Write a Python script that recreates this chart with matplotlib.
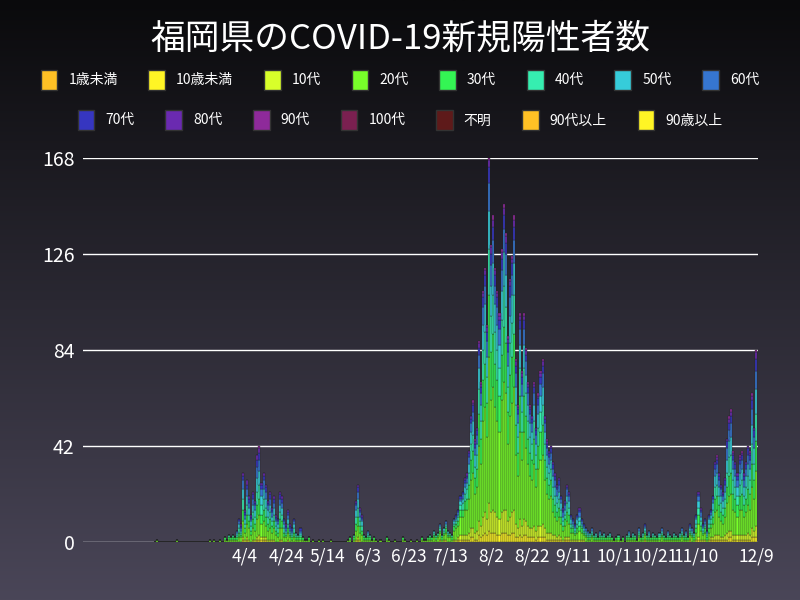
import numpy as np
import pandas as pd
import matplotlib
matplotlib.use("Agg")
import matplotlib.pyplot as plt
from matplotlib.patches import Patch
from matplotlib.colors import LinearSegmentedColormap

plt.rcParams['font.family'] = ['Noto Sans CJK JP', 'DejaVu Sans']

feb = [0,1,0,0,0,0,0,0,0,0]
mar = [0,1,0,0,0,0,0,0,0,0, 0,0,0,0,0,0,0,1,0,1, 0,0,1,0,2,1,3,2,3,2,5]
apr = [10,8,30,14,27,20,12,22,18,38, 42,26,30,25,18,22,15,20,12,10, 22,20,10,8,14,8,6,10,4,3]
may = [6,2,1,1,2,0,1,0,0,1, 0,1,0,0,0,1,0,0,0,0, 0,0,0,1,2,0,3,18,25,15,12]
jun = [3,2,5,3,1,2,1,0,1,0, 0,2,1,0,0,1,0,0,0,2, 1,0,0,1,0,0,1,0,2,1]
jul = [1,2,3,2,5,3,4,8,3,6, 9,5,4,3,10,12,14,20,22,28, 30,40,55,62,45,50,88,70,110,120,95]
aug = [168,130,143,120,110,100,128,148,135,90, 115,125,143,80,60,100,75,100,85,70,
       60,55,70,50,65,75,80,55,45,40,42]
sep = [35,30,25,28,20,15,18,25,22,12, 10,8,12,15,10,8,6,5,4,6, 3,4,2,5,3,4,2,3,4,2]
octo = [1,2,3,1,2,0,3,5,2,4, 3,1,6,2,4,8,3,5,2,4, 3,2,4,6,3,2,5,3,2,4,3]
nov = [2,4,6,3,5,2,8,6,4,12, 22,15,8,10,5,12,14,20,35,38, 30,25,22,28,45,55,58,40,35,30]
dec = [38,40,30,35,42,40,65,50,84]

tick_dates = ['2020-04-04','2020-04-24','2020-05-14','2020-06-03','2020-06-23','2020-07-13',
              '2020-08-02','2020-08-22','2020-09-11','2020-10-01','2020-10-21','2020-11-10','2020-12-09']

legend_labels = ['1歳未満','10歳未満','10代','20代','30代','40代','50代','60代',
                 '70代','80代','90代','100代','不明','90代以上','90歳以上']
colors = ['#ffc125','#fff525','#d8ff2a','#78ff2a','#34f554','#36eeb0','#36ccda','#3676d0',
          '#3636c0','#6a2ab0','#8e2a9a','#7a2050','#5e1a1a','#ffc125','#fff525']

# age shares (%) for groups: 1歳未満,10歳未満,10代,20代,30代,40代,50代,60代,70代,80代,90代
shares_spring = [0,2,4,22,16,15,15,12,8,5,1]
shares_summer = [0,3,7,38,16,12,10,7,4,2,1]
shares_autumn = [0,3,6,28,16,14,13,10,6,3,1]

totals = np.array(feb+mar+apr+may+jun+jul+aug+sep+octo+nov+dec)
dates = pd.date_range('2020-02-20', periods=len(totals))

def split(t, sh):
    sh = np.array(sh, float)/sum(sh)
    raw = t*sh
    base = np.floor(raw).astype(int)
    rem = t - base.sum()
    order = np.argsort(-(raw-base))
    base[order[:rem]] += 1
    return base

counts = []
for d, t in zip(dates, totals):
    sh = shares_spring if d.month <= 6 else (shares_summer if d.month <= 8 else shares_autumn)
    counts.append(split(int(t), sh))
counts = np.array(counts)

fig = plt.figure(figsize=(8,6), dpi=100)
bg = fig.add_axes([0,0,1,1], zorder=-10)
grad = np.linspace(0,1,256).reshape(-1,1)
cm = LinearSegmentedColormap.from_list('g', ['#0a0a0c','#4a4658'])
bg.imshow(grad, aspect='auto', cmap=cm, extent=[0,1,0,1], origin='upper')
bg.axis('off')

ax = fig.add_axes([83/800, 58/600, 675/800, 384/600])
ax.patch.set_alpha(0)
x = np.arange(len(totals))
bottom = np.zeros(len(totals))
for gi in range(counts.shape[1]):
    ax.bar(x, counts[:,gi], bottom=bottom, width=1.0, color=colors[gi],
           edgecolor='#202020', linewidth=0.25, zorder=3)
    bottom += counts[:,gi]

ax.set_ylim(0,168)
ax.set_yticks([0,42,84,126,168])
ax.grid(axis='y', color='white', linewidth=1, zorder=1)
start = pd.Timestamp('2020-02-20')
ticks = pd.to_datetime(tick_dates)
ax.set_xticks([(t-start).days for t in ticks])
ax.set_xticklabels([f'{t.month}/{t.day}' for t in ticks], fontsize=12.5)
ax.set_xlim((pd.Timestamp('2020-01-16')-start).days, (pd.Timestamp('2020-12-10')-start).days)
for s in ax.spines.values():
    s.set_visible(False)
ax.tick_params(axis='y', colors='white', labelsize=14, length=0, pad=6)
ax.tick_params(axis='x', colors='white', length=0, pad=4)

fig.text(0.5, 0.935, '福岡県のCOVID-19新規陽性者数', color='white', fontsize=25,
         ha='center', va='center')
h = [Patch(facecolor=c, edgecolor='#333333') for c in colors]
fig.legend(h[:8], legend_labels[:8], ncol=8, loc='center', bbox_to_anchor=(0.5,0.867),
           frameon=False, labelcolor='white', fontsize=10, handlelength=1.2,
           handleheight=1.8, columnspacing=2.2)
fig.legend(h[8:], legend_labels[8:], ncol=7, loc='center', bbox_to_anchor=(0.5,0.8),
           frameon=False, labelcolor='white', fontsize=10, handlelength=1.2,
           handleheight=1.8, columnspacing=2.2)
fig.savefig('out.png', dpi=100)
